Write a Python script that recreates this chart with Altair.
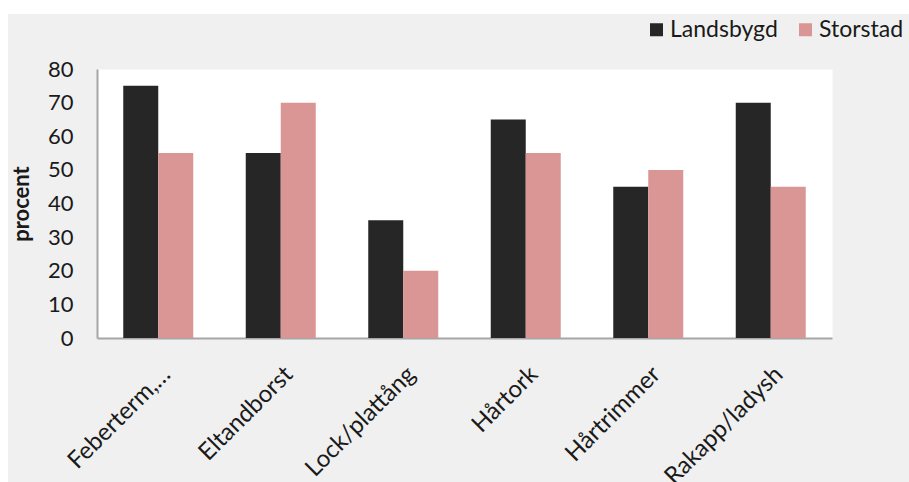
import altair as alt
import pandas as pd

# Appliance categories and share (percent) per area type
categories = ["Feberterm,…", "Eltandborst", "Lock/plattång", "Hårtork", "Hårtrimmer", "Rakapp/ladysh"]
series = ["Landsbygd", "Storstad"]
landsbygd = [75, 55, 35, 65, 45, 70]
storstad = [55, 70, 20, 55, 50, 45]
y_ticks = [0, 10, 20, 30, 40, 50, 60, 70, 80]
colors = ["#262626", "#d99694"]

rows = []
for cat, a, b in zip(categories, landsbygd, storstad):
    rows.append({"kategori": cat, "serie": series[0], "procent": a})
    rows.append({"kategori": cat, "serie": series[1], "procent": b})
df = pd.DataFrame(rows)

FONT = "Lato"
TEXT = "#1a1a1a"

bars = alt.Chart(df).mark_bar().encode(
    x=alt.X(
        "kategori:N",
        sort=categories,
        scale=alt.Scale(paddingInner=0.4286, paddingOuter=0.2143),
        axis=alt.Axis(
            title=None,
            labelAngle=-45,
            labelAlign="right",
            labelBaseline="top",
            labelFontSize=24,
            labelFont=FONT,
            labelColor=TEXT,
            labelPadding=24,
            labelLimit=0,
            ticks=False,
            domainColor="#a6a6a6",
            domainWidth=2,
        ),
    ),
    xOffset=alt.XOffset("serie:N", sort=series, scale=alt.Scale(paddingInner=0, paddingOuter=0)),
    y=alt.Y(
        "procent:Q",
        scale=alt.Scale(domain=[0, 80], nice=False),
        axis=alt.Axis(
            values=y_ticks,
            title="procent",
            titleFont=FONT,
            titleFontSize=22,
            titleFontWeight="bold",
            titleColor=TEXT,
            titlePadding=14,
            grid=False,
            ticks=False,
            labelFontSize=22,
            labelFont=FONT,
            labelColor=TEXT,
            labelPadding=24,
            domainColor="#a6a6a6",
            domainWidth=2,
        ),
    ),
    color=alt.Color(
        "serie:N",
        sort=series,
        scale=alt.Scale(domain=series, range=colors),
        legend=alt.Legend(
            title=None,
            orient="none",
            legendX=548,
            legendY=-51,
            direction="horizontal",
            symbolType="square",
            symbolSize=169,
            symbolStrokeWidth=0,
            labelFont=FONT,
            labelFontSize=23,
            labelColor=TEXT,
            labelOffset=2,
            columnPadding=16,
            padding=0,
        ),
    ),
)

# White page margin strips above and left of the grey chart area
top_strip = alt.Chart(alt.Data(values=[{}])).mark_rect(color="white").encode(
    x=alt.value(-97), x2=alt.value(812), y=alt.value(-69), y2=alt.value(-55)
)
left_strip = alt.Chart(alt.Data(values=[{}])).mark_rect(color="white").encode(
    x=alt.value(-97), x2=alt.value(-89), y=alt.value(-69), y2=alt.value(413)
)

chart = (
    alt.layer(bars, top_strip, left_strip)
    .properties(
        width=735,
        height=269,
        autosize=alt.AutoSizeParams(type="none"),
        padding={"left": 97, "top": 69, "right": 77, "bottom": 144},
        background="#f0f0f0",
    )
    .configure_view(fill="white", stroke="transparent")
)

chart.save("out.html", embed_options={"renderer": "svg", "actions": False})
